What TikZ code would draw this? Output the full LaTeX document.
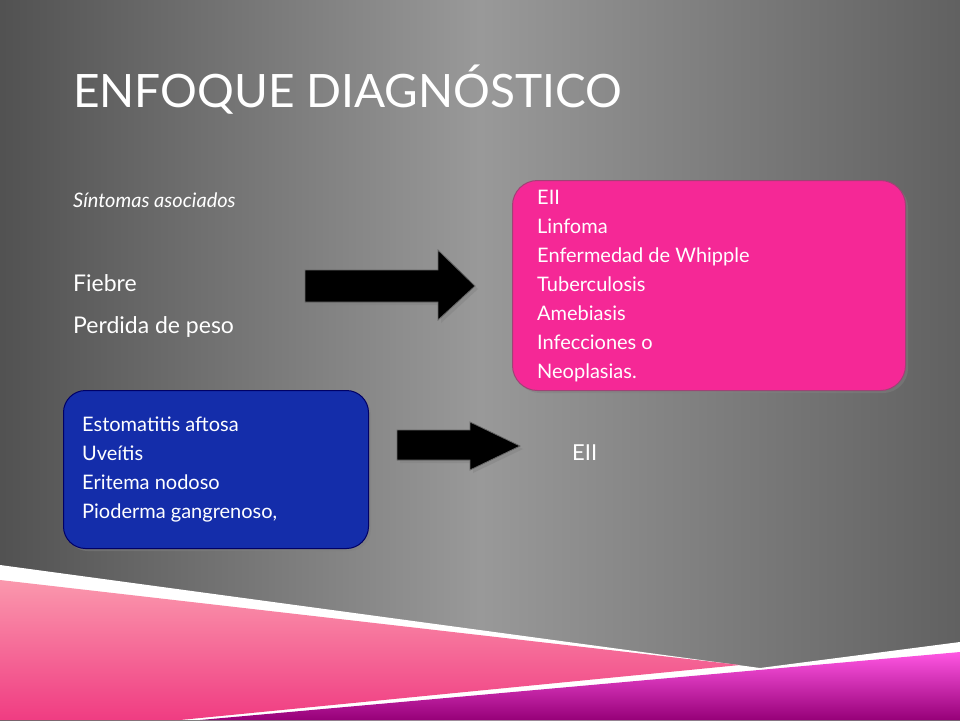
\documentclass[tikz,border=0pt]{standalone}
\usepackage{fontspec}
\setmainfont{Lato}
\usetikzlibrary{shadows}
\definecolor{royal}{RGB}{20,45,170}
\definecolor{hotpink}{RGB}{245,40,150}
\definecolor{deeppink}{RGB}{240,60,130}
\definecolor{plum}{RGB}{150,0,120}
\begin{document}
\begin{tikzpicture}[x=1pt,y=-1pt,
  txt/.style={anchor=base west,inner sep=0pt,text=white},
  lst/.style={anchor=north west,align=left,text=white,font=\fontsize{20}{29}\selectfont,inner sep=0pt},
  arr/.style={fill=black,draw=black!60,line width=0.8pt,drop shadow={opacity=0.45,shadow xshift=3pt,shadow yshift=-3pt}}]
\shade[left color=black!68,right color=black!62,middle color=black!40] (0,0) rectangle (960,720);
\useasboundingbox (0,0) rectangle (960,720);
% bottom decoration
\fill[white] (0,565) -- (760,668) -- (960,642) -- (960,720) -- (0,720) -- cycle;
\shade[top color=pink!70!deeppink,bottom color=deeppink] (0,580) -- (740,665) -- (180,720) -- (0,720) -- cycle;
\shade[top color=magenta!55!pink,bottom color=plum] (200,720) -- (960,652) -- (960,720) -- cycle;
% title
\node[txt,font=\fontsize{46}{46}\selectfont] (title) at (73,107) {ENFOQUE DIAGNÓSTICO};
\node[txt,font=\fontsize{20}{20}\selectfont\itshape] (sint) at (73,207) {Síntomas asociados};
\node[txt,font=\fontsize{23}{23}\selectfont] (fieb) at (73,291) {Fiebre};
\node[txt,font=\fontsize{23}{23}\selectfont] (peso) at (73,333) {Perdida de peso};
% pink box
\node[draw=magenta!60!black,line width=1pt,fill=hotpink,rounded corners=25pt,minimum width=393pt,minimum height=210pt,anchor=north west,drop shadow={opacity=0.5}] (pbox) at (512,180) {};
\node[lst] (plist) at (537,190) {EII\\Linfoma\\Enfermedad de Whipple\\Tuberculosis\\Amebiasis\\Infecciones o\\Neoplasias.};
% blue box
\node[draw=blue!40!black,line width=1pt,fill=royal,rounded corners=22pt,minimum width=305pt,minimum height=158pt,anchor=north west,drop shadow={opacity=0.5}] (bbox) at (63,390) {};
\node[lst] (blist) at (82,417) {Estomatitis aftosa\\Uveítis\\Eritema nodoso\\Pioderma gangrenoso,};
% arrows
\path[arr] (305,270) -- (438,270) -- (438,250) -- (475,286) -- (438,320) -- (438,302) -- (305,302) -- cycle;
\path[arr] (397,430) -- (470,430) -- (470,422) -- (520,446) -- (470,470) -- (470,460) -- (397,460) -- cycle;
\node[txt,font=\fontsize{22}{22}\selectfont] (eii) at (572,460) {EII};
\end{tikzpicture}
\end{document}
